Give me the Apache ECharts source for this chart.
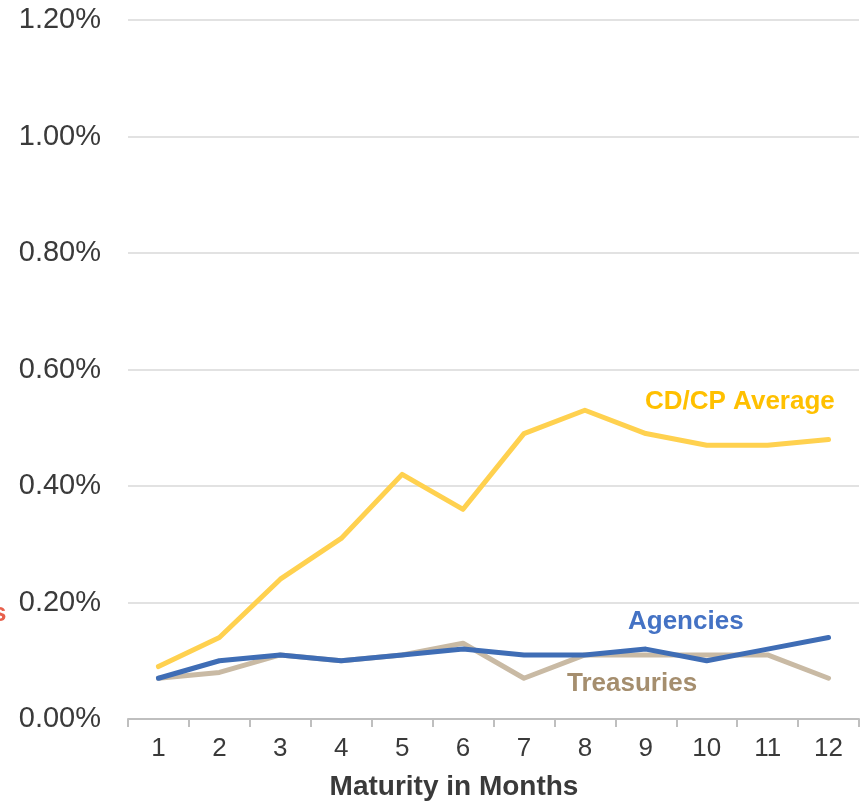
<!DOCTYPE html>
<html>
<head>
<meta charset="utf-8">
<script src="https://cdn.jsdelivr.net/npm/echarts@6/dist/echarts.min.js"></script>
<style>
  html, body { margin: 0; padding: 0; background: #ffffff; }
  #chart { width: 866px; height: 805px; }
</style>
</head>
<body>
<div id="chart"></div>
<script>
// Yields (%) by maturity bucket
const months = ['1', '2', '3', '4', '5', '6', '7', '8', '9', '10', '11', '12'];
const cdCpAverage = [0.09, 0.14, 0.24, 0.31, 0.42, 0.36, 0.49, 0.53, 0.49, 0.47, 0.47, 0.48];
const agencies    = [0.07, 0.10, 0.11, 0.10, 0.11, 0.12, 0.11, 0.11, 0.12, 0.10, 0.12, 0.14];
const treasuries  = [0.07, 0.08, 0.11, 0.10, 0.11, 0.13, 0.07, 0.11, 0.11, 0.11, 0.11, 0.07];

const FONT = '"Liberation Sans", Arial, Helvetica, sans-serif';

const chart = echarts.init(document.getElementById('chart'), null, { renderer: 'canvas' });

function lineSeries(name, data, color) {
  return {
    name: name,
    type: 'line',
    data: data,
    symbol: 'none',
    smooth: false,
    lineStyle: { color: color, width: 5, cap: 'round', join: 'round' },
    itemStyle: { color: color }
  };
}

chart.setOption({
  animation: false,
  backgroundColor: '#ffffff',
  grid: { left: 128, right: 7, top: 20, bottom: 86, containLabel: false },
  xAxis: {
    type: 'category',
    data: months,
    boundaryGap: true,
    axisLine: { lineStyle: { color: '#bfbfbf', width: 2 } },
    axisTick: { show: true, alignWithLabel: false, length: 8, lineStyle: { color: '#bfbfbf', width: 2 } },
    axisLabel: { fontFamily: FONT, fontSize: 26, color: '#3a3a3a', margin: 17 },
    splitLine: { show: false }
  },
  yAxis: {
    type: 'value',
    min: 0,
    max: 1.2,
    interval: 0.2,
    axisLine: { show: false },
    axisTick: { show: false },
    axisLabel: {
      fontFamily: FONT, fontSize: 29, color: '#3a3a3a', margin: 27,
      verticalAlign: 'middle', padding: [8, 0, 0, 0],
      formatter: function (v) { return v.toFixed(2) + '%'; }
    },
    splitLine: { lineStyle: { color: '#d9d9d9', width: 1.5 } }
  },
  series: [
    lineSeries('Treasuries', treasuries, '#c9baa4'),
    lineSeries('CD/CP Average', cdCpAverage, '#ffd14f'),
    lineSeries('Agencies', agencies, '#3f6db5')
  ],
  graphic: [
    { type: 'text', x: 454, y: 773,
      style: { text: 'Maturity in Months', fill: '#3a3a3a', font: 'bold 28px ' + FONT, textAlign: 'center' } },
    { type: 'text', left: 645, top: 389,
      style: { text: 'CD/CP Average', fill: '#ffc000', font: 'bold 26px ' + FONT } },
    { type: 'text', left: 628, top: 609,
      style: { text: 'Agencies', fill: '#4472c4', font: 'bold 26px ' + FONT } },
    { type: 'text', left: 567, top: 671,
      style: { text: 'Treasuries', fill: '#a58e6e', font: 'bold 26px ' + FONT } },
    { type: 'text', left: -8, top: 601,
      style: { text: 's', fill: '#e8604c', font: 'bold 26px ' + FONT } }
  ]
});
</script>
</body>
</html>
